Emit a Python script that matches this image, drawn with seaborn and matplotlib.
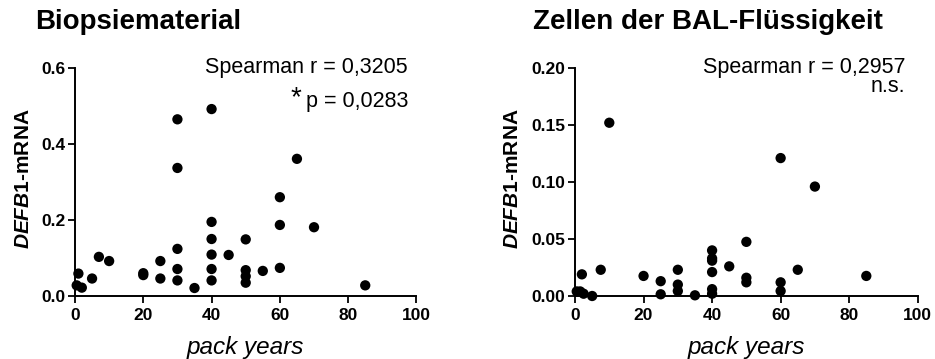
import numpy as np
import pandas as pd
import seaborn as sns
import matplotlib.pyplot as plt

# values
biopsy_pack = [0.5, 1, 2, 5, 7, 10, 20, 20, 25, 25, 30, 30, 30, 30, 30, 35,
               40, 40, 40, 40, 40, 40, 45, 50, 50, 50, 50, 55, 60, 60, 60, 65, 70, 85]
biopsy_mrna = [0.028, 0.059, 0.022, 0.046, 0.103, 0.092, 0.060, 0.055, 0.092, 0.046,
               0.465, 0.337, 0.124, 0.071, 0.041, 0.021,
               0.492, 0.195, 0.150, 0.109, 0.071, 0.041, 0.108,
               0.149, 0.068, 0.052, 0.035, 0.066, 0.260, 0.187, 0.074, 0.361, 0.181, 0.028]

bal_pack = [0.5, 1.5, 2.5, 2, 5, 7.5, 10, 20, 25, 25, 30, 30, 30, 35,
            40, 40, 40, 40, 40, 40, 45, 50, 50, 50, 60, 60, 60, 65, 70, 85]
bal_mrna = [0.004, 0.004, 0.002, 0.019, 0.0, 0.023, 0.152, 0.0176, 0.013, 0.0015,
            0.023, 0.010, 0.0044, 0.0006,
            0.040, 0.033, 0.031, 0.021, 0.006, 0.002, 0.026,
            0.0475, 0.016, 0.012, 0.121, 0.012, 0.0044, 0.023, 0.096, 0.0176]

titles = ["Biopsiematerial", "Zellen der BAL-Flüssigkeit"]
stats = [("Spearman r = 0,3205", "p = 0,0283", "*"), ("Spearman r = 0,2957", "n.s.", "")]
y_ticks = [[0.0, 0.2, 0.4, 0.6], [0.00, 0.05, 0.10, 0.15, 0.20]]
x_ticks = [0, 20, 40, 60, 80, 100]

sns.set_style("ticks")
plt.rcParams['font.family'] = ['Liberation Sans', 'DejaVu Sans']
plt.rcParams['mathtext.fontset'] = 'custom'
plt.rcParams['mathtext.rm'] = 'Liberation Sans:bold'
plt.rcParams['mathtext.it'] = 'Liberation Sans:italic:bold'
for key in ['text.color', 'axes.labelcolor', 'xtick.color', 'ytick.color', 'axes.edgecolor']:
    plt.rcParams[key] = 'black'

fig = plt.figure(figsize=(9.35, 3.59), dpi=100)
ax1 = fig.add_axes([0.0802, 0.1755, 0.3652, 0.635])
ax2 = fig.add_axes([0.615, 0.1755, 0.3665, 0.635])

datasets = [(biopsy_pack, biopsy_mrna), (bal_pack, bal_mrna)]
label_x = [-0.123, -0.155]
title_x = [35 / 935, 533 / 935]
text_pos = [(0.975, 0.978, 0.829), (0.963, 0.978, 0.895)]

for i, ax in enumerate([ax1, ax2]):
    df = pd.DataFrame({"pack": datasets[i][0], "mrna": datasets[i][1]})
    sns.scatterplot(data=df, x="pack", y="mrna", ax=ax, color="black",
                    s=55, edgecolor="none", clip_on=False, zorder=3)
    ax.set_xlim(0, 100)
    ax.set_ylim(0, y_ticks[i][-1])
    ax.set_xticks(x_ticks)
    ax.set_yticks(y_ticks[i])
    if i == 0:
        ax.set_yticklabels([f"{v:.1f}" for v in y_ticks[i]])
    else:
        ax.set_yticklabels([f"{v:.2f}" for v in y_ticks[i]])
    for lab in ax.get_xticklabels() + ax.get_yticklabels():
        lab.set_fontweight("bold")
        lab.set_fontsize(12.5)
    ax.tick_params(length=5, width=1.3, colors="black")
    ax.tick_params(axis="x", pad=4)
    ax.tick_params(axis="y", pad=2)
    for sp in ["left", "bottom"]:
        ax.spines[sp].set_linewidth(1.4)
    sns.despine(ax=ax)

    ax.set_xlabel("pack years", fontsize=17.5, style="italic", labelpad=9)
    ax.set_ylabel(r"$\it{DEFB1}$-mRNA", fontsize=15, fontweight="bold")
    ax.yaxis.set_label_coords(label_x[i], 0.513)

    tx, ty1, ty2 = text_pos[i]
    ax.text(tx, ty1, stats[i][0], transform=ax.transAxes, ha="right",
            va="baseline", fontsize=15.5)
    ax.text(tx, ty2, stats[i][1], transform=ax.transAxes, ha="right",
            va="baseline", fontsize=15.5)
    if stats[i][2]:
        ax.text(0.646, 0.838, stats[i][2], transform=ax.transAxes, ha="center",
                va="baseline", fontsize=20)

    fig.text(title_x[i], 1 - 22 / 359, titles[i], fontsize=20,
             fontweight="bold", va="center", ha="left")

fig.savefig("out.png", dpi=100)
